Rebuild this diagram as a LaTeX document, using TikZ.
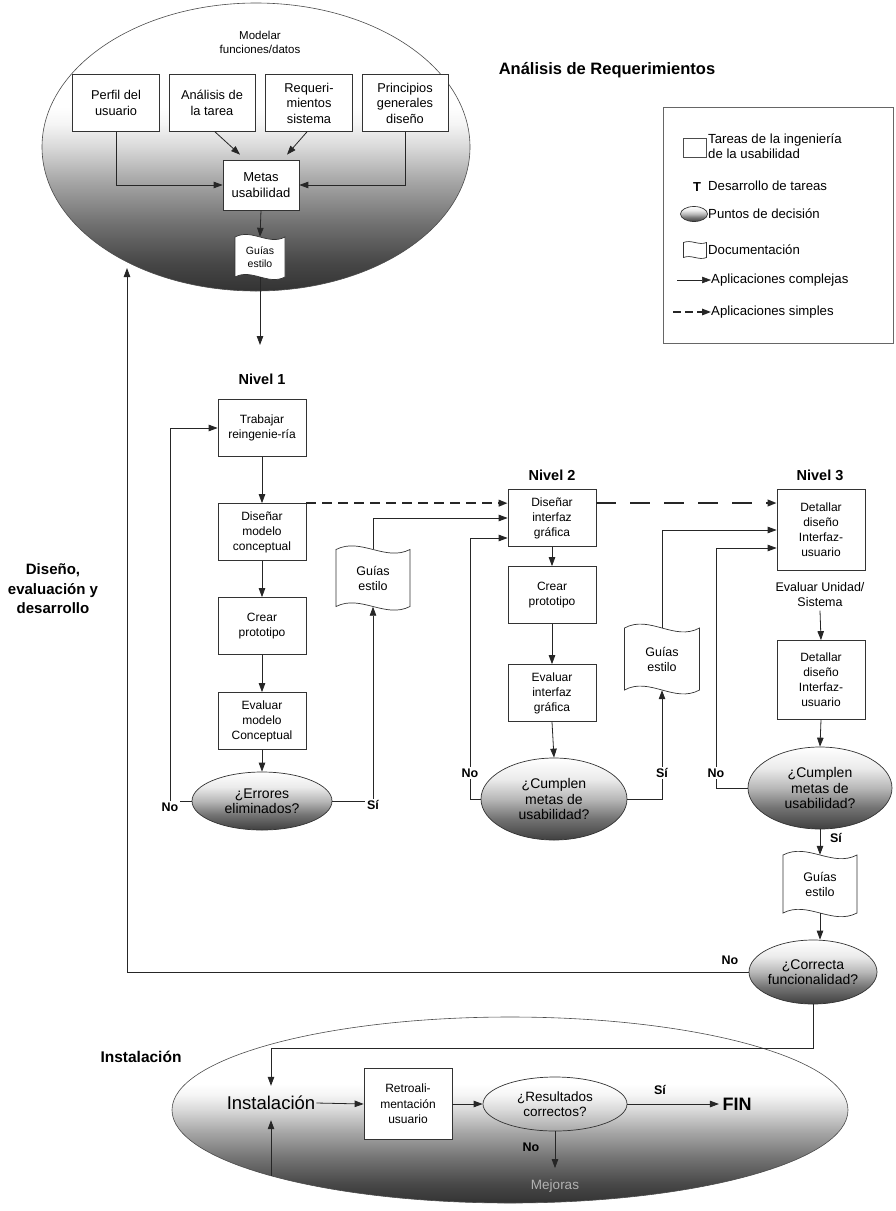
\documentclass[tikz,border=0pt]{standalone}
\usepackage{fontspec}
\setmainfont{Liberation Sans}
\usetikzlibrary{arrows.meta,shapes.geometric}
\newcommand{\myfs}[2]{\fontsize{#1}{#2}\selectfont}
\pgfdeclareverticalshading{bigshade}{100bp}{color(0bp)=(black!80); color(25bp)=(black!80); color(30bp)=(black!72); color(37bp)=(black!55); color(44bp)=(black!35); color(50bp)=(black!15); color(54bp)=(black!4); color(57bp)=(white); color(100bp)=(white)}
\pgfdeclareverticalshading{decshade}{100bp}{color(0bp)=(black!75); color(25bp)=(black!75); color(38bp)=(black!55); color(50bp)=(black!28); color(62bp)=(black!8); color(75bp)=(white); color(100bp)=(white)}
\newcommand{\docnode}[7]{%
  \path[draw=black!80, line width=0.7pt, fill=white]
    ({#2-#4/2},{#3-#5/2}) .. controls ({#2-#4/6},{#3-#5/2-0.22*#5}) and ({#2+#4/6},{#3-#5/2+0.22*#5}) .. ({#2+#4/2},{#3-#5/2})
    -- ({#2+#4/2},{#3+#5/2}) .. controls ({#2+#4/6},{#3+#5/2+0.22*#5}) and ({#2-#4/6},{#3+#5/2-0.22*#5}) .. ({#2-#4/2},{#3+#5/2}) -- cycle;
  \node[minimum width=#4pt, minimum height=#5pt, inner sep=0pt, align=center, font=#6] (#1) at (#2,#3) {#7};}
\begin{document}
\begin{tikzpicture}[x=1pt,y=-1pt,
  font=\myfs{12}{15},
  ln/.style={draw=black!85, line width=0.8pt},
  arr/.style={ln, -{Triangle[length=9pt,width=6.5pt]}},
  box/.style={draw=black!80, line width=0.7pt, fill=white, minimum width=88pt, minimum height=57pt, align=center, inner sep=2pt},
  dec/.style={ellipse, draw=black!80, line width=0.7pt, shade, shading=decshade, align=center, inner sep=0pt, font=\myfs{14}{15.5}},
  lab/.style={font=\bfseries\myfs{12.5}{14}, inner sep=1.5pt},
  niv/.style={font=\bfseries\myfs{14.5}{16}},
  lgd/.style={anchor=west, inner sep=0pt, font=\myfs{13.2}{15.5}},
  dsh/.style={draw=black!85, line width=2pt, dash pattern=on 10pt off 6pt, -{Triangle[length=9pt,width=6.5pt]}},
  bigell/.style={ellipse, draw=black!70, line width=0.6pt, shade, shading=bigshade, inner sep=0pt}
]
\useasboundingbox (0,0) rectangle (895,1211);

% ---------- Analisis de requerimientos ----------
\node[bigell, minimum width=428pt, minimum height=288pt] (reqell) at (256,147) {};
\node[font=\myfs{11.5}{14}, align=center] (modelar) at (260,42) {Modelar\\funciones/datos};
\node[box, minimum width=87pt, font=\myfs{12.8}{16}] (perfil) at (116,103) {Perfil del\\usuario};
\node[box, minimum width=86pt, font=\myfs{12.8}{16}] (analisis) at (212,103) {Análisis de\\la tarea};
\node[box, minimum width=87pt, font=\myfs{12.8}{15.5}] (reqsis) at (309,103) {Requeri-\\mientos\\sistema};
\node[box, minimum width=86pt, font=\myfs{12.8}{15.5}] (princ) at (405,103) {Principios\\generales\\diseño};
\node[box, minimum width=76pt, minimum height=50pt, font=\myfs{13}{16}] (metas) at (261,185) {Metas\\usabilidad};
\docnode{guias0}{260}{257}{50}{40}{\myfs{10.5}{13}}{Guías\\estilo}
\draw[arr] (perfil.south) |- (metas.west);
\draw[arr] (princ.south) |- (metas.east);
\draw[arr] ([xshift=3pt]analisis.south) -- ([xshift=-21pt,yshift=5pt]metas.north);
\draw[arr] ([xshift=-2pt]reqsis.south) -- ([xshift=26pt,yshift=5pt]metas.north);
\draw[arr] (metas.south) -- (guias0.north);
\coordinate (n1in) at (260,345);
\draw[arr] (guias0.south) -- (n1in);

\node[font=\bfseries\myfs{16.5}{19}] (analreq) at (607,70) {Análisis de Requerimientos};

% ---------- Leyenda ----------
\node[draw=black!60, line width=0.6pt, minimum width=230pt, minimum height=236pt, inner sep=0pt] (legend) at (778,225) {};
\node[draw=black!70, line width=0.6pt, minimum width=23pt, minimum height=19pt, inner sep=0pt] (licon1) at (694.5,147.5) {};
\node[lgd, align=left] (lt1) at (708,146) {Tareas de la ingeniería\\de la usabilidad};
\node[font=\bfseries\myfs{13}{14}] (lT) at (697,187) {T};
\node[lgd] (lt2) at (708,186) {Desarrollo de tareas};
\node[dec, minimum width=27pt, minimum height=15pt] (licon3) at (694,214) {};
\node[lgd] (lt3) at (708,214) {Puntos de decisión};
\docnode{licon4}{695}{250}{23}{15}{\tiny}{}
\node[lgd] (lt4) at (708,250) {Documentación};
\node[lgd] (lt5) at (711,280) {Aplicaciones complejas};
\coordinate (l5s) at (677,280);
\draw[arr, line width=0.5pt] (l5s) -- (lt5.west);
\node[lgd] (lt6) at (711,312) {Aplicaciones simples};
\coordinate (l6s) at (673,312);
\draw[dsh, line width=1.5pt, dash pattern=on 8pt off 4pt] (l6s) -- (lt6.west);

% ---------- Diseno ----------
\node[font=\bfseries\myfs{15}{19.5}, align=center] (dised) at (53,589) {Diseño,\\evaluación y\\desarrollo};

% Nivel 1
\node[niv] (niv1) at (262,379) {Nivel 1};
\node[box] (trab) at (262,428) {Trabajar\\reingenie-ría};
\node[box] (dmc) at (262,532) {Diseñar\\modelo\\conceptual};
\node[box] (cp1) at (262,626) {Crear\\prototipo};
\node[box] (emc) at (262,721) {Evaluar\\modelo\\Conceptual};
\node[dec, minimum width=140pt, minimum height=58pt] (err) at (262,801) {¿Errores\\eliminados?};
\node[lab] (no1) at (170,807) {No};
\node[lab] (si1) at (373,805) {Sí};
\docnode{guias1}{373}{578}{74}{57}{\myfs{12.5}{15}}{Guías\\estilo}
\draw[arr] (trab.south) -- (dmc.north);
\draw[arr] (dmc.south) -- (cp1.north);
\draw[arr] (cp1.south) -- (emc.north);
\draw[arr] (emc.south) -- (err.north);
\draw[ln] (err.west) -- (err.west -| no1.east);
\draw[arr] (no1.north) |- (trab.west);
\draw[ln] (err.east) -- (err.east -| si1.west);
\draw[arr] (si1.north) -- (guias1.south);

% Nivel 2
\node[niv] (niv2) at (552,475) {Nivel 2};
\node[box] (dig) at (552,518) {Diseñar\\interfaz\\gráfica};
\node[box] (cp2) at (552,595) {Crear\\prototipo};
\node[box] (eig) at (552,693) {Evaluar\\interfaz\\gráfica};
\node[dec, minimum width=146pt, minimum height=82pt] (cum2) at (554,799) {¿Cumplen\\metas de\\usabilidad?};
\node[lab] (no2) at (470,773) {No};
\node[lab] (si2) at (662,773) {Sí};
\docnode{guias2}{662}{659}{75}{62}{\myfs{12.5}{15}}{Guías\\estilo}
\draw[arr] (guias1.north) |- (dig.west);
\draw[dsh] (dmc.north east) -- (dmc.north east -| dig.west);
\draw[arr] (dig.south) -- (cp2.north);
\draw[arr] (cp2.south) -- (eig.north);
\draw[arr] (eig.south) -- (cum2.north);
\draw[ln] (cum2.west) -| (no2.south);
\draw[arr] (no2.north) |- ([yshift=-20pt]dig.west);
\draw[ln] (cum2.east) -| (si2.south);
\draw[arr] (si2.north) -- (guias2.south);

% Nivel 3
\node[niv] (niv3) at (820,475) {Nivel 3};
\node[box, minimum height=81pt] (det1) at (821,530) {Detallar\\diseño\\Interfaz-\\usuario};
\node[align=center, font=\myfs{12.5}{15}] (evalu) at (820,595) {Evaluar Unidad/\\Sistema};
\node[box, minimum height=79pt] (det2) at (821,680) {Detallar\\diseño\\Interfaz-\\usuario};
\node[dec, minimum width=144pt, minimum height=82pt] (cum3) at (820,788) {¿Cumplen\\metas de\\usabilidad?};
\node[lab] (no3) at (716,773) {No};
\node[lab] (si3) at (836,838) {Sí};
\docnode{guias3}{820}{884}{74}{58}{\myfs{12.5}{15}}{Guías\\estilo}
\node[dec, minimum width=128pt, minimum height=64pt] (cor) at (813,972) {¿Correcta\\funcionalidad?};
\node[lab] (noc) at (730,960) {No};
\draw[dsh, dash pattern=on 20pt off 14pt] ([yshift=15pt]dig.east) -- ([yshift=15pt]dig.east -| det1.west);
\draw[arr] (guias2.north) |- (det1.west);
\draw[arr] (evalu.south) -- (det2.north);
\draw[arr] (det2.south) -- (cum3.north);
\draw[ln] (cum3.west) -| (no3.south);
\draw[arr] (no3.north) |- ([yshift=-18pt]det1.west);
\draw[arr] (cum3.south) -- (guias3.north);
\draw[arr] (guias3.south) -- (guias3.south |- cor.north);
\coordinate (fbk) at (127,972);
\coordinate (reqin) at (127,268);
\draw[arr] (cor.west) -- (fbk) -- (reqin);

% ---------- Instalacion ----------
\node[font=\bfseries\myfs{15.5}{17}] (instlab) at (141,1057) {Instalación};
\node[bigell, minimum width=676pt, minimum height=186pt] (instell) at (510,1110) {};
\node[font=\myfs{18.5}{21}, minimum height=34pt, inner sep=1pt] (inst) at (271,1103) {Instalación};
\node[box, minimum height=71pt, font=\myfs{12}{15.5}] (retro) at (408,1104) {Retroali-\\mentación\\usuario};
\node[ellipse, draw=black!80, line width=0.7pt, minimum width=144pt, minimum height=54pt, inner sep=0pt, align=center, font=\myfs{13.5}{15}] (res) at (555,1104) {¿Resultados\\correctos?};
\node[font=\bfseries\myfs{18}{20}] (fin) at (737,1104) {FIN};
\node[lab] (sir) at (660,1090) {Sí};
\node[lab] (nor) at (531,1147) {No};
\node[font=\myfs{13.5}{15}, text=black!30] (mej) at (555,1186) {Mejoras};
\coordinate (bj) at (271,1048);
\coordinate (bup) at (271,1176);
\draw[arr] (cor.south) |- (bj) -- (inst.north);
\draw[arr] (bup) -- (inst.south);
\draw[arr] (inst.east) -- (retro.west);
\draw[arr] (retro.east) -- (res.west);
\draw[arr] (res.east) -- (fin.west);
\draw[arr] (res.south) -- ([yshift=8pt]mej.north);
\end{tikzpicture}
\end{document}
